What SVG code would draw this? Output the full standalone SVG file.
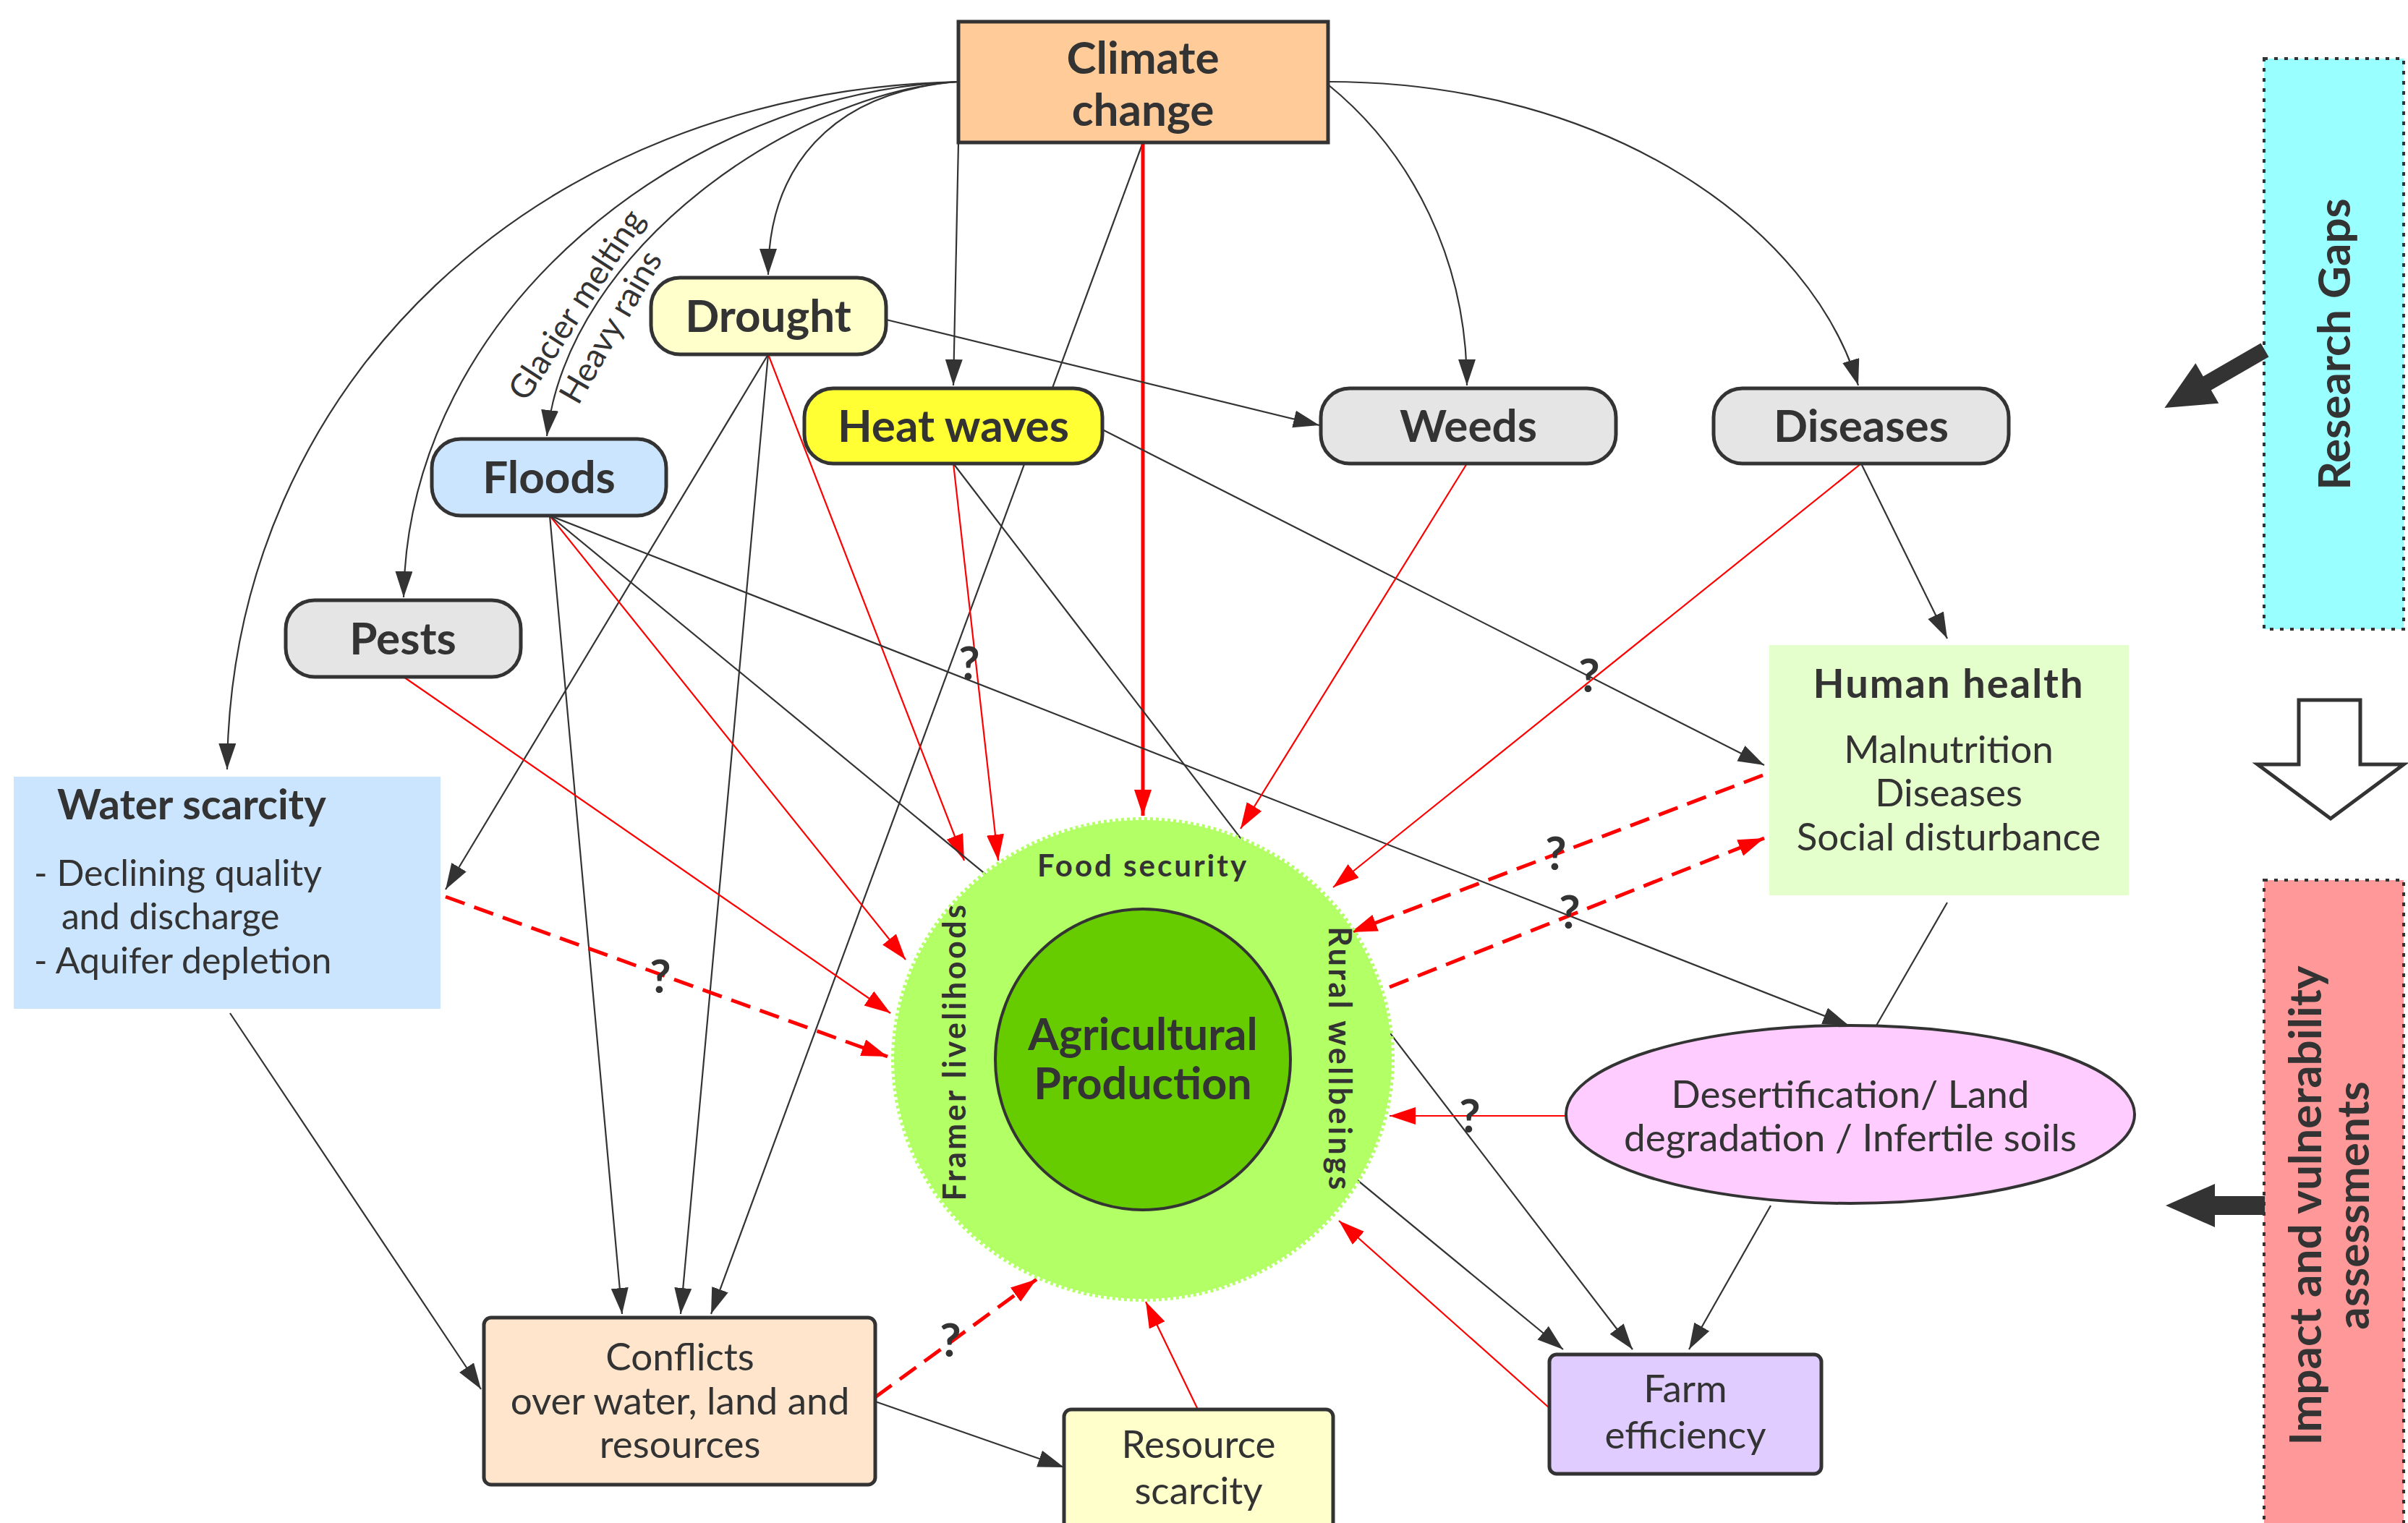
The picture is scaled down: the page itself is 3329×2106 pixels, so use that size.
<svg xmlns="http://www.w3.org/2000/svg" width="3329" height="2106" viewBox="0 0 3329 2106">
<style>
text{font-family:Lato,"Liberation Sans","DejaVu Sans",sans-serif;fill:#333333}
.lbl{font-size:62px;font-weight:bold;text-anchor:middle}
.reg{font-size:53px;text-anchor:middle}
.q{font-size:64px;font-weight:bold;text-anchor:middle}
.node{stroke:#333333;stroke-width:5}
.blk{fill:none;stroke:#333333;stroke-width:2.2;marker-end:url(#ab)}
.bln{fill:none;stroke:#333333;stroke-width:2.2}
.red{fill:none;stroke:#FF0000;stroke-width:2.2;marker-end:url(#ar)}
.redd{fill:none;stroke:#FF0000;stroke-width:5;stroke-dasharray:28 14;marker-end:url(#ar)}
.redt{fill:none;stroke:#FF0000;stroke-width:5;marker-end:url(#ar)}
</style>
<defs>
<marker id="ab" markerUnits="userSpaceOnUse" markerWidth="38" markerHeight="26" refX="36" refY="12" orient="auto"><path d="M0,0 L36,12 L0,24 z" fill="#333333"/></marker>
<marker id="ar" markerUnits="userSpaceOnUse" markerWidth="38" markerHeight="26" refX="36" refY="12" orient="auto"><path d="M0,0 L36,12 L0,24 z" fill="#FF0000"/></marker>
</defs>
<rect width="3329" height="2106" fill="#FFFFFF"/>

<g id="connectors">
<path class="blk" d="M1325,113 C743,127 318,531 314,1064"/>
<path class="blk" d="M1325,113 C955,127 563,425 558,826"/>
<path class="blk" d="M1325,113 C1104,127 786,340 756,603"/>
<path class="blk" d="M1325,113 C1146,127 1062,234 1062,380"/>
<path class="blk" d="M1325,197 L1318,533"/>
<path class="blk" d="M1580,197 L983,1817"/>
<path class="redt" d="M1580,197 L1580,1128"/>
<path class="blk" d="M1836,117 C1953,212 2028,361 2028,533"/>
<path class="blk" d="M1836,113 C2229,113 2505,318 2569,533"/>
<path class="blk" d="M1225,442 L1824,588"/>
<path class="blk" d="M1062,490 L616,1230"/>
<path class="blk" d="M1062,490 L941,1817"/>
<path class="red" d="M1062,490 L1333,1190"/>
<path class="red" d="M1318,641 L1380,1190"/>
<path class="blk" d="M1318,641 L2257,1866"/>
<path class="blk" d="M1524,594 L2439,1058"/>
<path class="blk" d="M760,713 L860,1817"/>
<path class="red" d="M760,713 L1252,1327"/>
<path class="blk" d="M760,713 L2161,1866"/>
<path class="blk" d="M760,713 L2556,1418"/>
<path class="red" d="M558,936 L1231,1401"/>
<path class="redd" d="M616,1240 L1227,1461"/>
<path class="blk" d="M318,1401 L665,1921"/>
<path class="red" d="M2028,641 L1715,1146"/>
<path class="red" d="M2573,641 L1843,1227"/>
<path class="blk" d="M2573,641 L2692,883"/>
<path class="redd" d="M2437,1072 L1868,1289"/>
<path class="redd" d="M1921,1365 L2439,1159"/>
<path class="bln" d="M2692,1248 L2594,1418"/>
<path class="red" d="M2166,1543 L1921,1543"/>
<path class="blk" d="M2448,1667 L2335,1866"/>
<path class="red" d="M2142,1947 L1851,1688"/>
<path class="redd" d="M1210,1932 L1433,1769"/>
<path class="blk" d="M1210,1938 L1471,2029"/>
<path class="red" d="M1656,1949 L1584,1800"/>
</g>

<g id="edge-labels">
<text transform="translate(810,430) rotate(-57)" font-size="46" text-anchor="middle">Glacier melting</text>
<text transform="translate(858,460) rotate(-60)" font-size="46" text-anchor="middle">Heavy rains</text>
</g>

<g id="climate-change">
<rect class="node" x="1325" y="30" width="511" height="167" fill="#FFCC99"/>
<text class="lbl" font-size="63"><tspan x="1580" y="102">Climate</tspan><tspan x="1580" y="174">change</tspan></text>
</g>
<g id="drought">
<rect class="node" x="900" y="384" width="325" height="106" rx="40" fill="#FFFFCC"/>
<text class="lbl" x="1062" y="459">Drought</text>
</g>
<g id="heat-waves">
<rect class="node" x="1112" y="537" width="412" height="104" rx="40" fill="#FFFF33"/>
<text class="lbl" x="1318" y="611">Heat waves</text>
</g>
<g id="floods">
<rect class="node" x="597" y="607" width="324" height="106" rx="40" fill="#CCE5FF"/>
<text class="lbl" x="759" y="682">Floods</text>
</g>
<g id="pests">
<rect class="node" x="395" y="830" width="325" height="106" rx="40" fill="#E5E5E5"/>
<text class="lbl" x="557" y="905">Pests</text>
</g>
<g id="weeds">
<rect class="node" x="1826" y="537" width="408" height="104" rx="40" fill="#E5E5E5"/>
<text class="lbl" x="2030" y="611">Weeds</text>
</g>
<g id="diseases">
<rect class="node" x="2369" y="537" width="408" height="104" rx="40" fill="#E5E5E5"/>
<text class="lbl" x="2573" y="611">Diseases</text>
</g>
<g id="water-scarcity">
<rect x="19" y="1074" width="590" height="321" fill="#CCE5FF"/>
<text x="79" y="1133" font-size="58" font-weight="bold">Water scarcity</text>
<text font-size="50"><tspan x="47" y="1225">- Declining quality</tspan><tspan x="85" y="1285">and discharge</tspan><tspan x="47" y="1346">- Aquifer depletion</tspan></text>
</g>
<g id="human-health">
<rect x="2446" y="892" width="497" height="346" fill="#E5FFCC"/>
<text x="2694" y="965" font-size="56" font-weight="bold" text-anchor="middle" letter-spacing="2">Human health</text>
<text class="reg" font-size="50"><tspan x="2694" y="1055">Malnutrition</tspan><tspan x="2694" y="1115">Diseases</tspan><tspan x="2694" y="1176">Social disturbance</tspan></text>
</g>
<g id="agricultural-production">
<ellipse cx="1580" cy="1465" rx="344" ry="331" fill="#B3FF66" stroke="#B3FF66" stroke-width="8" stroke-dasharray="4 4"/>
<ellipse cx="1580" cy="1465" rx="204" ry="208" fill="#66CC00" stroke="#333333" stroke-width="4"/>
<text font-size="61" font-weight="bold" text-anchor="middle"><tspan x="1580" y="1452">Agricultural</tspan><tspan x="1580" y="1520">Production</tspan></text>
<text x="1580" y="1212" font-size="42" font-weight="bold" text-anchor="middle" letter-spacing="3">Food security</text>
<text transform="translate(1318,1454) rotate(-90)" font-size="43" font-weight="bold" text-anchor="middle" dominant-baseline="central" letter-spacing="3.5">Framer livelihoods</text>
<text transform="translate(1853,1465) rotate(90)" font-size="43" font-weight="bold" text-anchor="middle" dominant-baseline="central" letter-spacing="3.5">Rural wellbeings</text>
</g>
<g id="desertification">
<ellipse cx="2558" cy="1541" rx="393" ry="123" fill="#FFCCFF" stroke="#333333" stroke-width="4"/>
<text class="reg"><tspan x="2558" y="1532">Desertification/ Land</tspan><tspan x="2558" y="1592">degradation / Infertile soils</tspan></text>
</g>
<g id="farm-efficiency">
<rect class="node" x="2142" y="1873" width="376" height="165" rx="10" fill="#E0CCFF"/>
<text class="reg"><tspan x="2330" y="1939">Farm</tspan><tspan x="2330" y="2003">efficiency</tspan></text>
</g>
<g id="resource-scarcity">
<rect class="node" x="1471" y="1949" width="372" height="180" rx="10" fill="#FFFFCC"/>
<text class="reg"><tspan x="1657" y="2016">Resource</tspan><tspan x="1657" y="2080">scarcity</tspan></text>
</g>
<g id="conflicts">
<rect class="node" x="669" y="1822" width="541" height="231" rx="10" fill="#FFE5CC"/>
<text class="reg" font-size="52"><tspan x="940" y="1895">Conflicts</tspan><tspan x="940" y="1956">over water, land and</tspan><tspan x="940" y="2016">resources</tspan></text>
</g>

<g id="question-marks">
<text class="q" x="1340" y="940">?</text>
<text class="q" x="2197" y="957">?</text>
<text class="q" x="913" y="1373">?</text>
<text class="q" x="2151" y="1203">?</text>
<text class="q" x="2170" y="1284">?</text>
<text class="q" x="2032" y="1566">?</text>
<text class="q" x="1314" y="1876">?</text>
</g>

<g id="research-gaps">
<rect x="3130" y="81" width="193" height="789" fill="#99FFFF" stroke="#333333" stroke-width="4" stroke-dasharray="5 9"/>
<text transform="translate(3225,476) rotate(-90)" font-size="62" font-weight="bold" text-anchor="middle" dominant-baseline="central">Research Gaps</text>
<path transform="translate(3131,484) rotate(150)" d="M0,-11 L92,-11 L92,-32 L160,0 L92,32 L92,11 L0,11 z" fill="#333333"/>
</g>
<g id="impact-assessments">
<rect x="3130" y="1217" width="193" height="900" fill="#FF9999" stroke="#333333" stroke-width="4" stroke-dasharray="5 9"/>
<text transform="translate(3223,1667) rotate(-90)" font-size="62" font-weight="bold" text-anchor="middle"><tspan x="0" y="-14">Impact and vulnerability</tspan><tspan x="0" y="52">assessments</tspan></text>
<path d="M3131,1654 L3062,1654 L3062,1637 L2994,1667 L3062,1697 L3062,1680 L3131,1680 z" fill="#333333"/>
</g>
<g id="flow-arrow">
<path d="M3178,968 L3263,968 L3263,1057 L3323,1057 L3222,1132 L3121,1057 L3178,1057 z" fill="#FFFFFF" stroke="#333333" stroke-width="5"/>
</g>
</svg>
